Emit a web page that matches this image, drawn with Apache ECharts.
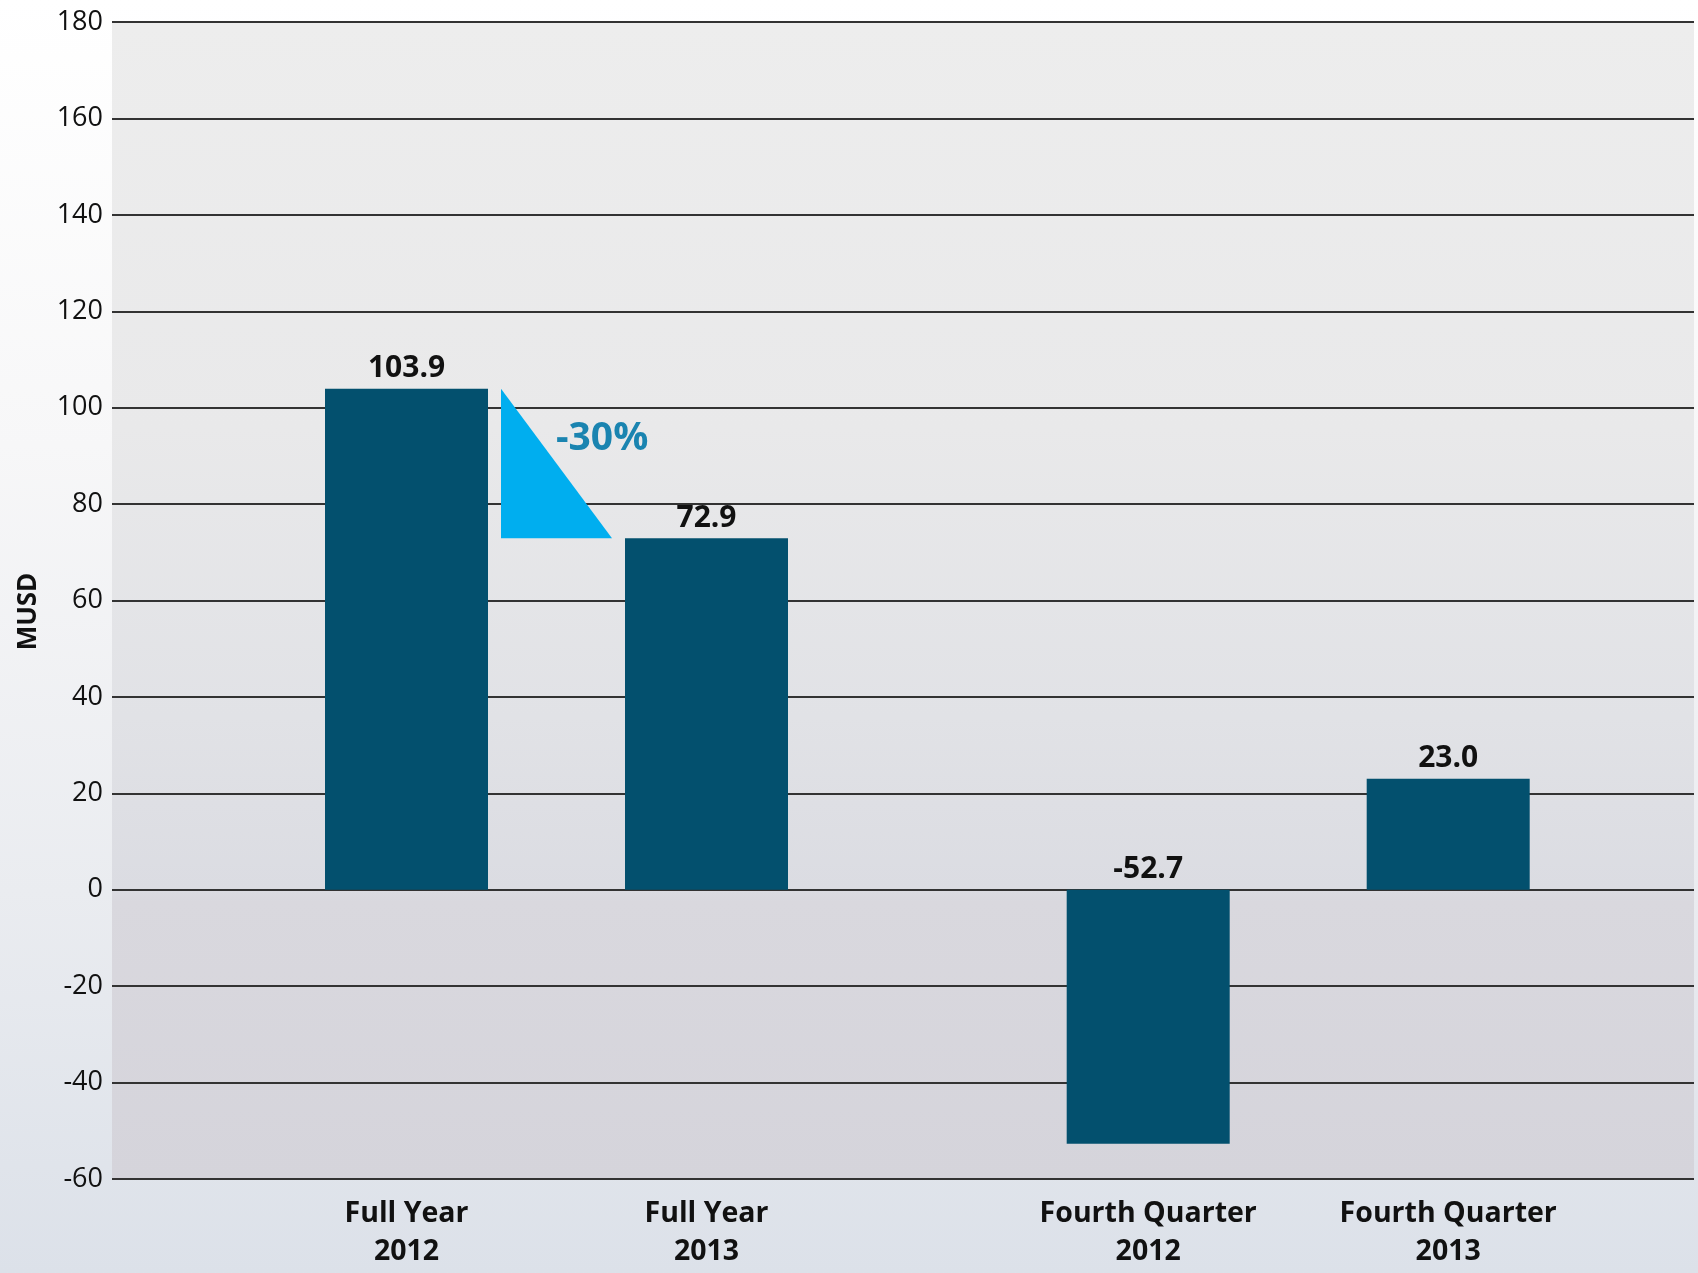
<!DOCTYPE html>
<html>
<head>
<meta charset="utf-8">
<script src="https://cdn.jsdelivr.net/npm/echarts@6/dist/echarts.min.js"></script>
<style>
html,body{margin:0;padding:0;}
#chart{width:1698px;height:1273px;}
</style>
</head>
<body>
<div id="chart"></div>
<script>
// ---- data ----
const categories = ['Full Year\n2012', 'Full Year\n2013', 'Fourth Quarter\n2012', 'Fourth Quarter\n2013'];
const values = [103.9, 72.9, -52.7, 23.0];
const yTicks = { min: -60, max: 180, interval: 20 };
const axisName = 'MUSD';
const changeLabel = '-30%';

// two category groups (Full Year, Fourth Quarter), each drawn in its own grid
const groupA = { cats: categories.slice(0, 2), vals: values.slice(0, 2) };
const groupB = { cats: categories.slice(2, 4), vals: values.slice(2, 4) };

const FONT = '"Open Sans", "Noto Sans", sans-serif';
const BAR_W = 163;
const TOP = 22, BOTTOM = 94;

const chart = echarts.init(document.getElementById('chart'), null, { renderer: 'canvas' });

const catAxis = (gi, data) => ({
  gridIndex: gi, type: 'category', data: data,
  axisLine: { show: false }, axisTick: { show: false },
  axisLabel: {
    interval: 0, margin: 16, color: '#111', fontFamily: FONT,
    fontWeight: 'bold', fontSize: 28.5, lineHeight: 38
  }
});
const hiddenY = gi => ({
  gridIndex: gi, type: 'value', min: yTicks.min, max: yTicks.max, interval: yTicks.interval,
  show: false, splitLine: { show: false }
});
const barLabel = {
  show: true, position: 'top', distance: 5,
  fontFamily: FONT, fontWeight: 'bold', fontSize: 30, color: '#111',
  formatter: p => p.value == null ? '' : Number(p.value).toFixed(1)
};

const option = {
  backgroundColor: {
    type: 'linear', x: 0, y: 0, x2: 0, y2: 1,
    colorStops: [
      { offset: 0, color: '#ffffff' },
      { offset: 0.35, color: '#f7f7f8' },
      { offset: 0.7, color: '#eaecf0' },
      { offset: 1, color: '#dce1e9' }
    ]
  },
  animation: false,
  grid: [
    {
      left: 112, right: 4, top: TOP, bottom: BOTTOM, show: true, borderWidth: 0,
      backgroundColor: {
        type: 'linear', x: 0, y: 0, x2: 0, y2: 1,
        colorStops: [
          { offset: 0, color: '#ededed' },
          { offset: 0.35, color: '#e9e9ea' },
          { offset: 0.6, color: '#e1e2e6' },
          { offset: 0.75, color: '#dbdce2' },
          { offset: 0.76, color: '#d9d8de' },
          { offset: 1, color: '#d5d4db' }
        ]
      }
    },
    { left: 256.5, right: 841.5, top: TOP, bottom: BOTTOM },
    { left: 998.2, right: 99.8, top: TOP, bottom: BOTTOM }
  ],
  xAxis: [
    { gridIndex: 0, type: 'value', show: false, min: 0, max: 1 },
    catAxis(1, groupA.cats),
    catAxis(2, groupB.cats)
  ],
  yAxis: [
    {
      gridIndex: 0, type: 'value', min: yTicks.min, max: yTicks.max, interval: yTicks.interval,
      name: axisName, nameLocation: 'middle', nameGap: 70,
      nameTextStyle: { fontFamily: FONT, fontWeight: 'bold', fontSize: 26, color: '#111', padding: [0, 22, 0, 0] },
      axisLine: { show: false }, axisTick: { show: false },
      axisLabel: { margin: 9, color: '#111', fontFamily: FONT, fontSize: 27 },
      splitLine: { show: true, lineStyle: { color: '#333', width: 2 } }
    },
    hiddenY(1),
    hiddenY(2)
  ],
  series: [
    {
      type: 'bar', xAxisIndex: 1, yAxisIndex: 1, data: groupA.vals,
      barWidth: BAR_W, itemStyle: { color: '#03506e' }, label: barLabel
    },
    {
      type: 'bar', xAxisIndex: 2, yAxisIndex: 2, data: groupB.vals,
      barWidth: BAR_W, itemStyle: { color: '#03506e' }, label: barLabel
    },
    {
      type: 'custom', xAxisIndex: 1, yAxisIndex: 1,
      data: [[0, groupA.vals[0], 1, groupA.vals[1]]],
      renderItem: function (params, api) {
        const p1 = api.coord([api.value(0), api.value(1)]);
        const p2 = api.coord([api.value(2), api.value(3)]);
        const gap = 13;
        const lx = p1[0] + BAR_W / 2 + gap;
        const rx = p2[0] - BAR_W / 2 - gap;
        return {
          type: 'group',
          children: [
            {
              type: 'polygon',
              shape: { points: [[lx, p1[1]], [lx, p2[1]], [rx, p2[1]]] },
              style: { fill: '#00aeef' }
            },
            {
              type: 'text',
              style: {
                text: changeLabel, x: lx + 55, y: p1[1] + 50,
                textAlign: 'left', textVerticalAlign: 'middle',
                fill: '#1a84b0', font: 'bold 39px ' + FONT
              }
            }
          ]
        };
      }
    }
  ]
};
chart.setOption(option);
</script>
</body>
</html>
